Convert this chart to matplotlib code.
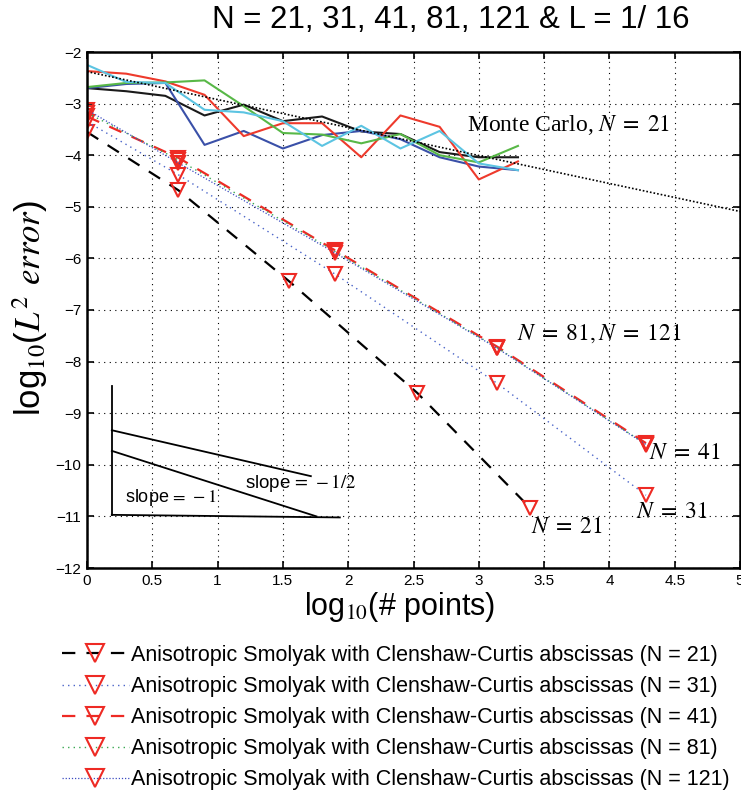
import numpy as np
import matplotlib
matplotlib.use('Agg')
import matplotlib.pyplot as plt

plt.rcParams['font.family'] = ['Liberation Sans', 'DejaVu Sans']
plt.rcParams['mathtext.fontset'] = 'stix'

# Monte Carlo runs (5 realisations), x = log10(# points)
mc_x = [0, 0.3, 0.6, 0.9, 1.2, 1.5, 1.8, 2.1, 2.4, 2.7, 3.0, 3.3]
mc_black = [-2.70, -2.76, -2.85, -3.23, -3.02, -3.34, -3.25, -3.54, -3.59, -3.94, -4.04, -4.04]
mc_blue = [-2.70, -2.62, -2.60, -3.80, -3.53, -3.87, -3.61, -3.53, -3.69, -4.04, -4.22, -4.29]
mc_red = [-2.37, -2.42, -2.57, -2.83, -3.63, -3.38, -3.38, -4.04, -3.23, -3.45, -4.47, -4.12]
mc_green = [-2.68, -2.60, -2.59, -2.55, -3.05, -3.57, -3.60, -3.77, -3.59, -4.00, -4.14, -3.82]
mc_cyan = [-2.25, -2.58, -2.60, -3.12, -3.17, -3.34, -3.82, -3.43, -3.87, -3.53, -4.16, -4.29]
mc_fit_x = [0, 5]
mc_fit_y = [-2.38, -5.09]

# Anisotropic Smolyak results
x21 = [0, 0.70, 1.546, 2.53, 3.395]
y21 = [-3.55, -4.68, -6.44, -8.61, -10.84]
x_hi = [0, 0.70, 1.897, 3.14, 4.28]
y31 = [-3.35, -4.38, -6.30, -8.42, -10.59]
y41 = [-3.25, -4.05, -5.84, -7.71, -9.58]
y81 = [-3.18, -4.09, -5.86, -7.73, -9.60]
y121 = [-3.12, -4.15, -5.89, -7.74, -9.61]

# reference slope triangle
tri_vert_x = [0.19, 0.19]
tri_vert_y = [-8.47, -10.97]
tri_base_x = [0.19, 1.936]
tri_base_y = [-10.97, -11.02]
half_x = [0.19, 1.714]
half_y = [-9.33, -10.22]
one_x = [0.19, 1.757]
one_y = [-9.73, -11.0]

W, H = 741, 794
fig = plt.figure(figsize=(W / 100, H / 100), dpi=100)
ax = fig.add_axes([87 / W, 1 - 568 / H, (740 - 87) / W, (568 - 52) / H])

for y, c in [(mc_black, '#1a1a1a'), (mc_blue, '#3a50a8'), (mc_red, '#ee3a2c'),
             (mc_green, '#58b847'), (mc_cyan, '#5cc4e2')]:
    ax.plot(mc_x, y, color=c, lw=1.5)
ax.plot(mc_fit_x, mc_fit_y, color='k', lw=1.2, linestyle=(0, (1, 1.2)))

mk = dict(marker='v', markersize=10, markerfacecolor='none',
          markeredgecolor='#ee2a24', markeredgewidth=1.5)
l21, = ax.plot(x21, y21, color='k', lw=1.6, linestyle=(0, (6, 5)), **mk)
l31, = ax.plot(x_hi, y31, color='#4a64c8', lw=1.0, linestyle=(0, (1, 3)), **mk)
l41, = ax.plot(x_hi, y41, color='#ee2a24', lw=1.6, linestyle=(0, (6, 5)), **mk)
l81, = ax.plot(x_hi, y81, color='#3aa852', lw=1.0, linestyle=(0, (1, 3)), **mk)
l121, = ax.plot(x_hi, y121, color='#3c4cc0', lw=0.9, linestyle=(0, (1, 1.5)), **mk)

for xs, ys in [(tri_vert_x, tri_vert_y), (tri_base_x, tri_base_y),
               (half_x, half_y), (one_x, one_y)]:
    ax.plot(xs, ys, color='k', lw=1.3)

ax.text(0.29, -10.64, 'slope$\\,=\\,-1$', fontsize=13, va='center')
ax.text(1.21, -10.35, 'slope$\\,=\\,-1/2$', fontsize=13.5, va='center')

serif = dict(family='Liberation Serif', fontsize=17)
ax.text(2.91, -3.42, 'Monte Carlo, $N\\;=\\;21$', va='center', **serif)
ax.text(3.29, -7.45, '$N\\;=\\;81,N\\;=\\;121$', va='center', **serif)
ax.text(4.30, -9.78, '$N\\;=\\;41$', va='center', **serif)
ax.text(4.20, -10.93, '$N\\;=\\;31$', va='center', **serif)
ax.text(3.40, -11.22, '$N\\;=\\;21$', va='center', **serif)

ax.set_xlim(0, 5)
ax.set_ylim(-12, -2)
ax.set_xticks(np.arange(0, 5.01, 0.5))
ax.set_xticklabels(['0', '0.5', '1', '1.5', '2', '2.5', '3', '3.5', '4', '4.5', '5'])
ax.set_yticks(np.arange(-12, -1.9, 1))
ax.set_yticklabels(['\u2212%d' % v for v in range(12, 1, -1)])
ax.tick_params(direction='in', top=True, right=True, length=5, width=1.2,
               labelsize=11, pad=4)
ax.grid(True, color='k', lw=0.8, linestyle=(0, (1, 4)))
for s in ax.spines.values():
    s.set_linewidth(1.8)

fig.text(451 / W, 1 - 20 / H, 'N = 21, 31, 41, 81, 121 & L = 1/ 16',
         ha='center', va='center', fontsize=22.5)
fig.text(400 / W, 1 - 607 / H, 'log$_{10}$(# points)', ha='center',
         va='center', fontsize=22)
fig.text(30 / W, 1 - 308 / H, 'log$_{10}$($L^2$ $error$)', ha='center',
         va='center', fontsize=25, rotation=90)

labels = ['Anisotropic Smolyak with Clenshaw-Curtis abscissas (N = %d)' % n
          for n in [21, 31, 41, 81, 121]]
fig.legend([l21, l31, l41, l81, l121], labels, loc='upper left',
           bbox_to_anchor=(62 / W, 1 - 645 / H), frameon=False,
           fontsize=15.5, handlelength=3.1, handletextpad=0.12,
           labelspacing=0.47, borderpad=0, borderaxespad=0, markerscale=1.3)

fig.savefig('out.png', dpi=100)
